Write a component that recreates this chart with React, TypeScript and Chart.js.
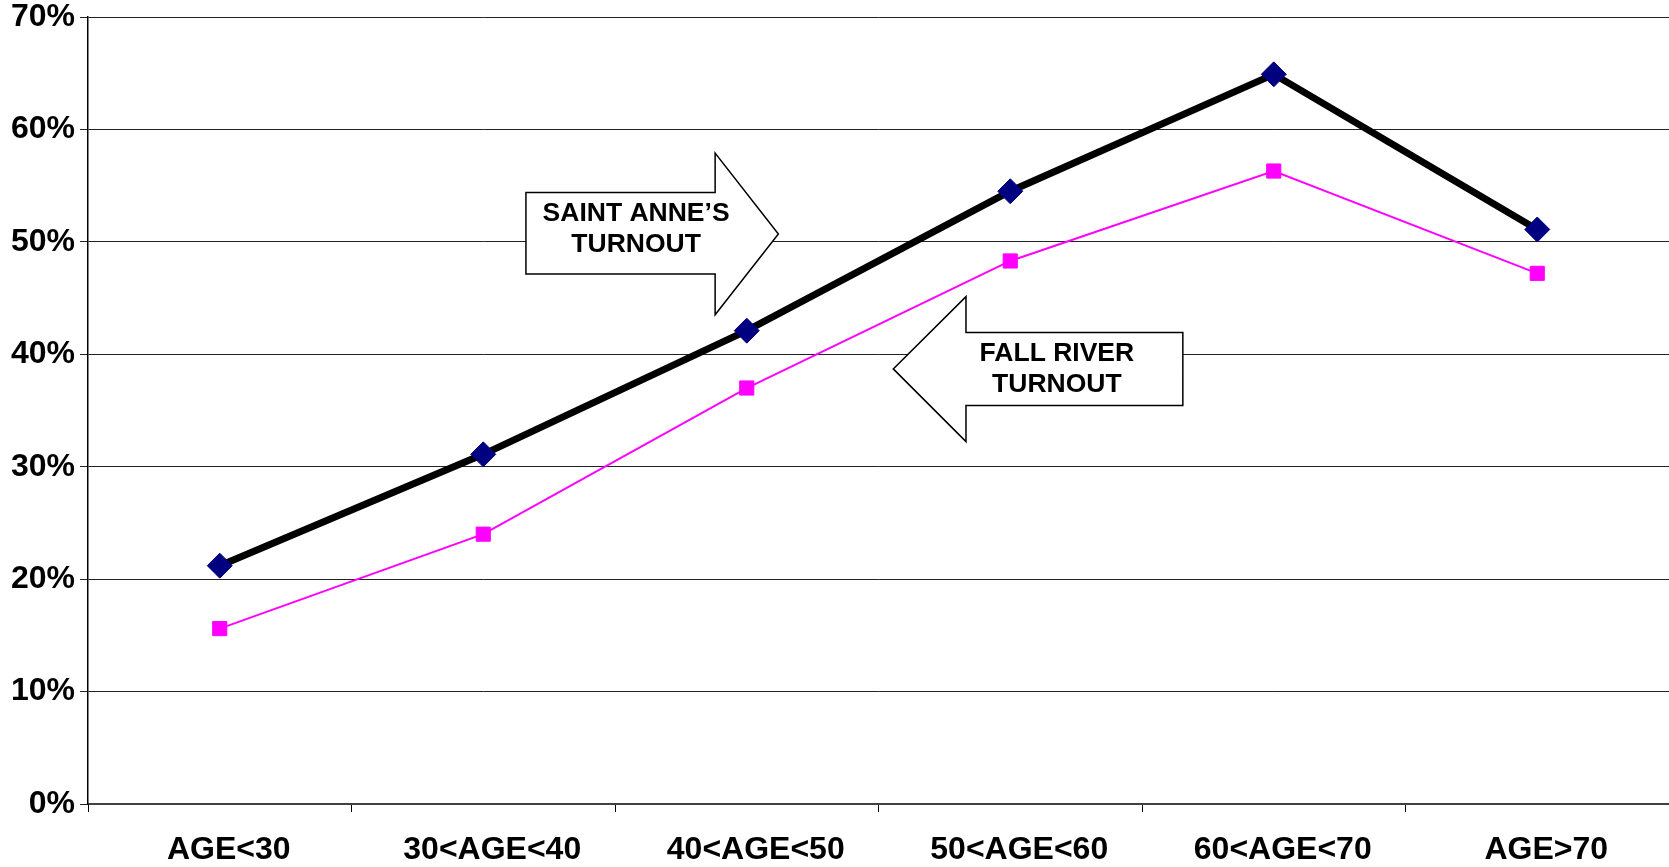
import React, { useEffect, useRef } from 'react';
import { Chart, registerables } from 'chart.js';

Chart.register(...registerables);

const CATEGORIES = ['AGE<30', '30<AGE<40', '40<AGE<50', '50<AGE<60', '60<AGE<70', 'AGE>70'];
const SAINT_ANNES = [21.2, 31.1, 42.1, 54.5, 64.9, 51.1];
const FALL_RIVER = [15.6, 24.0, 37.0, 48.3, 56.3, 47.2];
const Y_MIN = 0;
const Y_MAX = 70;
const Y_STEP = 10;
const SAINT_ANNES_LABEL = ['SAINT ANNE\u2019S', 'TURNOUT'];
const FALL_RIVER_LABEL = ['FALL RIVER', 'TURNOUT'];

const FONT = '"Liberation Sans", Arial, sans-serif';

// Annotation arrows, defined in data units (x: category index, y: percent)
const ARROWS = [
  {
    dir: 'right',
    back: 1.162, headBase: 1.88, tip: 2.12,
    bodyTop: 54.39, bodyBottom: 47.13, headTop: 57.89, headBottom: 43.51, tipY: 50.7,
    text: SAINT_ANNES_LABEL, textX: 1.58, textY: [52.49, 49.71],
  },
  {
    dir: 'left',
    back: 3.655, headBase: 2.832, tip: 2.556,
    bodyTop: 41.93, bodyBottom: 35.44, headTop: 45.13, headBottom: 32.23, tipY: 38.7,
    text: FALL_RIVER_LABEL, textX: 3.177, textY: [40.04, 37.28],
  },
];

const arrowPlugin = {
  id: 'arrows',
  beforeDatasetsDraw(chart: any) {
    const { ctx, scales } = chart;
    const x = scales.x;
    const y = scales.y;
    const px = (v: number) => x.getPixelForValue(v);
    const py = (v: number) => y.getPixelForValue(v);
    ctx.save();
    for (const a of ARROWS) {
      ctx.beginPath();
      ctx.moveTo(px(a.back), py(a.bodyTop));
      ctx.lineTo(px(a.headBase), py(a.bodyTop));
      ctx.lineTo(px(a.headBase), py(a.headTop));
      ctx.lineTo(px(a.tip), py(a.tipY));
      ctx.lineTo(px(a.headBase), py(a.headBottom));
      ctx.lineTo(px(a.headBase), py(a.bodyBottom));
      ctx.lineTo(px(a.back), py(a.bodyBottom));
      ctx.closePath();
      ctx.fillStyle = '#ffffff';
      ctx.fill();
      ctx.lineWidth = 1.5;
      ctx.strokeStyle = '#000000';
      ctx.lineJoin = 'miter';
      ctx.stroke();
      ctx.fillStyle = '#000000';
      ctx.font = 'bold 26.5px ' + FONT;
      ctx.textAlign = 'center';
      ctx.textBaseline = 'middle';
      a.text.forEach((t: string, i: number) => {
        ctx.fillText(t, px(a.textX), py(a.textY[i]));
      });
    }
    ctx.restore();
  },
};

export default function App() {
  const ref = useRef<HTMLCanvasElement>(null);
  useEffect(() => {
    document.body.style.margin = '0';
    const canvas = ref.current!;
    const chart = new Chart(canvas, {
      type: 'line',
      data: {
        labels: CATEGORIES,
        datasets: [
          {
            label: 'Saint Anne\u2019s Turnout',
            data: SAINT_ANNES,
            borderColor: '#000000',
            borderWidth: 7,
            tension: 0,
            pointStyle: 'rectRot',
            pointRadius: 12.5,
            pointBackgroundColor: '#000080',
            pointBorderColor: '#000080',
            pointBorderWidth: 1,
          },
          {
            label: 'Fall River Turnout',
            data: FALL_RIVER,
            borderColor: '#FF00FF',
            borderWidth: 2,
            tension: 0,
            pointStyle: 'rect',
            pointRadius: 10,
            pointBackgroundColor: '#FF00FF',
            pointBorderColor: '#FF00FF',
            pointBorderWidth: 1,
          },
        ],
      },
      options: {
        responsive: false,
        animation: false,
        layout: { autoPadding: false, padding: { top: 0, left: 0, right: 0, bottom: 0 } },
        plugins: { legend: { display: false }, tooltip: { enabled: false } },
        scales: {
          x: {
            type: 'category',
            offset: true,
            grid: {
              offset: true,
              drawOnChartArea: false,
              drawTicks: true,
              tickLength: 8,
              color: '#000000',
              lineWidth: 1,
            },
            border: { display: true, color: '#404040', width: 2 },
            ticks: {
              color: '#000000',
              font: { family: FONT, size: 32, weight: 'bold' },
              padding: 19,
              maxRotation: 0,
              autoSkip: false,
              labelOffset: 9,
            },
            afterFit: (scale: any) => {
              scale.height = 63;
              scale.paddingLeft = 0;
              scale.paddingRight = 0;
            },
          },
          y: {
            min: Y_MIN,
            max: Y_MAX,
            grid: {
              drawTicks: true,
              tickLength: 8,
              color: '#222222',
              lineWidth: 1,
            },
            border: { display: true, color: '#000000', width: 1.5 },
            ticks: {
              stepSize: Y_STEP,
              color: '#000000',
              font: { family: FONT, size: 32, weight: 'bold' },
              padding: 5,
              callback: (v: any) => v + '%',
            },
            afterFit: (scale: any) => {
              scale.width = 88;
              scale.paddingTop = 17;
              scale.paddingBottom = 0;
            },
          },
        },
      },
      plugins: [arrowPlugin],
    });
    return () => chart.destroy();
  }, []);
  return (
    <canvas
      ref={ref}
      width={1669}
      height={867}
      style={{ display: 'block', position: 'absolute', left: 0, top: 0 }}
    />
  );
}
